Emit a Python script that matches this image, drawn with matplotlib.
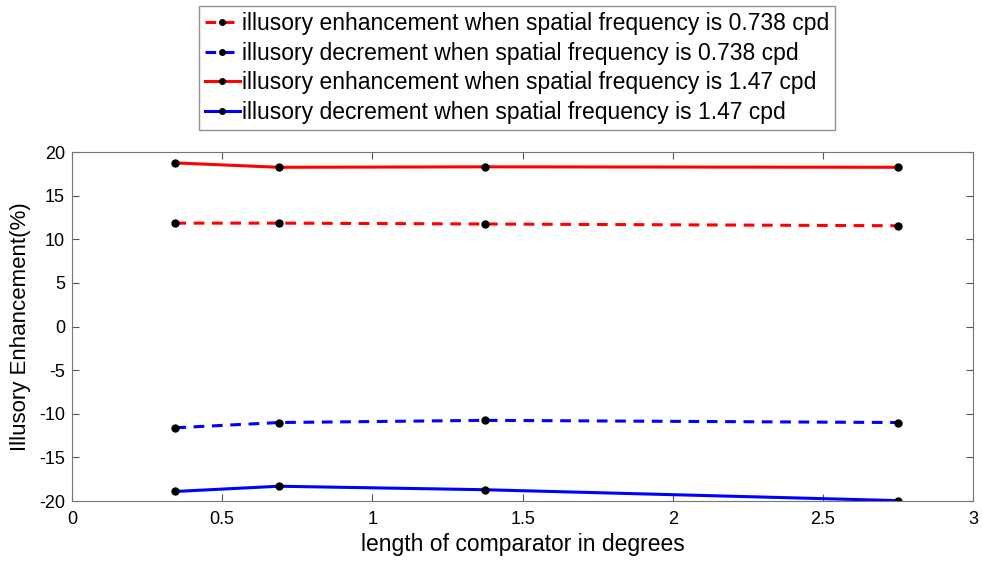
import matplotlib.pyplot as plt

plt.rcParams['font.family'] = ['Liberation Sans', 'DejaVu Sans']
plt.rcParams['axes.unicode_minus'] = False

# comparator lengths (degrees)
lengths = [0.344, 0.688, 1.375, 2.75]

enh_0738 = [11.85, 11.85, 11.75, 11.55]
dec_0738 = [-11.6, -11.0, -10.75, -11.0]
enh_147 = [18.75, 18.25, 18.3, 18.25]
dec_147 = [-18.9, -18.3, -18.7, -19.95]

labels = [
    'illusory enhancement when spatial frequency is 0.738 cpd',
    'illusory decrement when spatial frequency is 0.738 cpd',
    'illusory enhancement when spatial frequency is 1.47 cpd',
    'illusory decrement when spatial frequency is 1.47 cpd',
]


def main():
    fig = plt.figure(figsize=(9.82, 5.63), dpi=100)
    ax = fig.add_axes([0.0733, 0.110, 0.9177, 0.620])

    series = [
        (enh_0738, 'red', (0, (3.5, 2.5))),
        (dec_0738, 'blue', (0, (3.5, 2.5))),
        (enh_147, 'red', '-'),
        (dec_147, 'blue', '-'),
    ]
    for (vals, color, ls), lab in zip(series, labels):
        ax.plot(lengths, vals, color=color, linestyle=ls, linewidth=2.2,
                marker='o', markersize=5, markerfacecolor='black',
                markeredgecolor='black', label=lab)

    ax.set_xlim(0, 3)
    ax.set_ylim(-20, 20)
    ax.set_xticks([0, 0.5, 1, 1.5, 2, 2.5, 3])
    ax.set_xticklabels(['0', '0.5', '1', '1.5', '2', '2.5', '3'])
    ax.set_yticks(range(-20, 21, 5))
    ax.tick_params(direction='in', top=True, right=True, labelsize=13,
                   color='#555555', length=5)
    ax.tick_params(axis='x', pad=7)
    ax.tick_params(axis='y', pad=5)
    for sp in ax.spines.values():
        sp.set_color('#777777')

    ax.set_xlabel('length of comparator in degrees', fontsize=16.5, labelpad=4)
    ax.set_ylabel('Illusory Enhancement(%)', fontsize=16, labelpad=6)

    leg = ax.legend(loc='lower center', bbox_to_anchor=(0.494, 1.063),
                    fontsize=16.5, frameon=True, fancybox=False,
                    handlelength=1.5, handletextpad=0.1, borderpad=0.25,
                    labelspacing=0.3, borderaxespad=0, markerscale=0.8)
    leg.get_frame().set_edgecolor('#777777')
    leg.get_frame().set_linewidth(1.0)

    fig.savefig('out.png')


if __name__ == "__main__":
    main()
